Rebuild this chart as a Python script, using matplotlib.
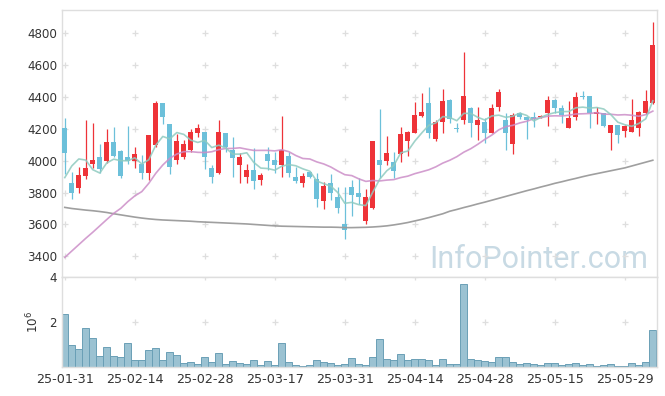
import matplotlib
matplotlib.use('Agg')
import matplotlib.pyplot as plt
import numpy as np

# ---- data ----
opens = [4203, 3858, 3831, 3906, 3980, 4024, 3996, 4118, 4061, 4024,
         4000, 3979, 3925, 4099, 4360, 4229, 4005, 4026, 4068, 4176,
         4178, 3952, 3921, 4172, 4067, 3975, 3900, 3942, 3879, 4042,
         4005, 3973, 4030, 3898, 3862, 3929, 3883, 3749, 3858, 3770,
         3603, 3833, 3800, 3624, 3701, 4005, 3998, 3990, 4042, 4126,
         4176, 4283, 4360, 4139, 4245, 4381, 4208, 4254, 4333, 4222,
         4243, 4176, 4335, 4256, 4103, 4298, 4273, 4273, 4273, 4298,
         4381, 4329, 4204, 4273, 4409, 4407, 4294, 4302, 4176, 4225,
         4189, 4183, 4204, 4298, 4361]
highs = [4266, 3930, 3963, 4256, 4235, 4105, 4197, 4210, 4065, 4218,
         4084, 4036, 4164, 4375, 4365, 4229, 4168, 4131, 4197, 4229,
         4180, 3973, 4256, 4175, 4151, 4047, 3977, 4078, 3921, 4084,
         4057, 4281, 4057, 3963, 3921, 3936, 3925, 3869, 3917, 3833,
         3833, 3879, 3890, 3820, 4126, 4323, 4155, 4057, 4214, 4189,
         4371, 4427, 4465, 4256, 4448, 4385, 4235, 4681, 4335, 4335,
         4266, 4356, 4448, 4302, 4302, 4308, 4277, 4308, 4285, 4407,
         4385, 4350, 4377, 4430, 4440, 4407, 4335, 4302, 4227, 4225,
         4225, 4386, 4310, 4444, 4873]
lows = [3917, 3758, 3800, 3883, 3952, 3921, 3984, 4026, 3890, 3980,
        3957, 3883, 3879, 4088, 4231, 3917, 3979, 4013, 4057, 4151,
        3946, 3858, 3917, 4057, 3900, 3858, 3858, 3820, 3848, 3942,
        3921, 3900, 3900, 3858, 3833, 3890, 3707, 3699, 3754, 3670,
        3509, 3653, 3728, 3603, 3695, 3890, 3973, 3890, 3994, 4030,
        4172, 4277, 4141, 4126, 4172, 4239, 4183, 4233, 4151, 4130,
        4114, 4172, 4314, 4067, 4042, 4260, 4136, 4212, 4268, 4218,
        4298, 4239, 4204, 4256, 4386, 4204, 4233, 4214, 4069, 4114,
        4151, 4183, 4155, 4294, 4356]
closes = [4050, 3800, 3911, 3954, 4003, 3946, 4118, 4028, 3906, 4000,
          4040, 3925, 4160, 4360, 4277, 3963, 4124, 4103, 4178, 4206,
          4026, 3900, 4178, 4088, 4015, 4026, 3942, 3875, 3911, 4000,
          3975, 4067, 3925, 3875, 3904, 3900, 3758, 3841, 3800, 3701,
          3565, 3785, 3770, 3770, 4124, 3975, 4046, 3936, 4168, 4178,
          4287, 4304, 4176, 4243, 4375, 4260, 4202, 4407, 4239, 4254,
          4176, 4329, 4432, 4172, 4287, 4273, 4256, 4262, 4281, 4381,
          4329, 4287, 4266, 4398, 4402, 4298, 4306, 4218, 4225, 4162,
          4218, 4256, 4308, 4373, 4727]
# volume, millions of shares
volume = [2.36, 1.00, 0.82, 1.73, 1.27, 0.50, 0.91, 0.50, 0.45, 1.05,
          0.29, 0.29, 0.77, 0.86, 0.32, 0.68, 0.55, 0.18, 0.23, 0.14,
          0.45, 0.23, 0.64, 0.14, 0.27, 0.18, 0.14, 0.32, 0.09, 0.27,
          0.09, 1.05, 0.23, 0.09, 0.05, 0.09, 0.32, 0.23, 0.18, 0.09,
          0.14, 0.41, 0.14, 0.09, 0.45, 1.23, 0.36, 0.32, 0.59, 0.32,
          0.36, 0.36, 0.32, 0.09, 0.36, 0.14, 0.14, 3.70, 0.36, 0.32,
          0.27, 0.23, 0.45, 0.45, 0.23, 0.14, 0.18, 0.14, 0.09, 0.18,
          0.18, 0.09, 0.14, 0.18, 0.09, 0.14, 0.05, 0.09, 0.14, 0.05,
          0.05, 0.18, 0.09, 0.23, 1.64]
# moving-average values before the window is long enough
ma5_head = [3894, 3967, 4011, 4004]
ma20_head = [3393, 3433, 3473, 3513, 3551, 3591, 3631, 3670, 3701, 3743,
             3779, 3806, 3858, 3921, 3973, 4015, 4042, 4057, 4057]
ma120 = [3707, 3700, 3695, 3690, 3686, 3681, 3675, 3667, 3660, 3653,
         3646, 3640, 3635, 3631, 3628, 3626, 3624, 3622, 3620, 3617,
         3615, 3613, 3611, 3609, 3607, 3605, 3603, 3600, 3597, 3594,
         3591, 3589, 3588, 3587, 3586, 3585, 3584, 3583, 3583, 3582,
         3580, 3580, 3581, 3582, 3584, 3587, 3591, 3597, 3604, 3612,
         3622, 3632, 3643, 3655, 3667, 3683, 3694, 3706, 3717, 3729,
         3740, 3752, 3764, 3776, 3788, 3800, 3812, 3823, 3835, 3846,
         3858, 3868, 3879, 3889, 3900, 3910, 3919, 3928, 3937, 3946,
         3955, 3967, 3979, 3991, 4003]
tick_pos = [0, 10, 20, 30, 40, 50, 60, 70, 80]
tick_labels = ['25-01-31', '25-02-14', '25-02-28', '25-03-17', '25-03-31',
               '25-04-14', '25-04-28', '25-05-15', '25-05-29']
price_ticks = [3400, 3600, 3800, 4000, 4200, 4400, 4600, 4800]

# ---- derived ----
n = len(closes)
x = np.arange(n)
c = np.array(closes, float)
ma5 = np.array(ma5_head + [c[i - 4:i + 1].mean() for i in range(4, n)])
ma20 = np.array(ma20_head + [c[i - 19:i + 1].mean() for i in range(19, n)])

RED = '#ee3338'
BLUE = '#6cc0da'
GRID = '#dedede'
TXT = '#333333'

fig = plt.figure(figsize=(6.65, 3.96), dpi=100)
ax1 = fig.add_axes([0.0932, 0.3005, 0.8948, 0.6742])
ax2 = fig.add_axes([0.0932, 0.0732, 0.8948, 0.2273], sharex=ax1)

for ax in (ax1, ax2):
    for s in ax.spines.values():
        s.set_color(GRID)
        s.set_linewidth(1)
    ax.tick_params(length=0, colors=TXT)

# grid crosses
gx, gy = np.meshgrid(tick_pos, price_ticks)
ax1.scatter(gx.ravel(), gy.ravel(), marker='+', s=14, color=GRID, lw=0.9, zorder=0.5)

# watermark
ax1.text(0.985, 0.035, 'InfoPointer.com', transform=ax1.transAxes, ha='right',
         va='baseline', fontsize=22, color='#c8dae4', family='Roboto', zorder=0.3)

# candles
for i in range(n):
    o, h, l, cl = opens[i], highs[i], lows[i], closes[i]
    col = RED if cl >= o else BLUE
    ax1.vlines(x[i], l, h, color=col, lw=0.9, zorder=2)
    bot = min(o, cl)
    ht = max(abs(cl - o), 5)
    ax1.bar(x[i], ht, bottom=bot, width=0.72, color=col, edgecolor='none', zorder=3)

ax1.plot(x, ma120, color='#9a9a9a', lw=1.2, zorder=4, alpha=0.95)
ax1.plot(x, ma20, color='#cc8ec8', lw=1.2, zorder=4, alpha=0.85)
ax1.plot(x, ma5, color='#8fcbc0', lw=1.2, zorder=4, alpha=0.85)

ax1.set_ylim(3270, 4946)
ax1.set_yticks(price_ticks)
ax1.set_yticklabels([str(v) for v in price_ticks], fontsize=8.6)
ax1.set_xlim(-0.4, 84.6)
plt.setp(ax1.get_xticklabels(), visible=False)

# volume
vx, vy = np.meshgrid(tick_pos, [2, 4])
ax2.scatter(vx.ravel(), vy.ravel(), marker='+', s=14, color=GRID, lw=0.9, zorder=0.5)
ax2.bar(x, volume, width=1.0, color='#9bc2d2', edgecolor='#6a9fb6', lw=0.7, zorder=2)
ax2.set_ylim(0, 4)
ax2.set_yticks([2, 4])
ax2.set_yticklabels(['2', '4'], fontsize=8.6)
ax2.set_ylabel(r'$10^6$', fontsize=8.6, color=TXT, labelpad=6)
ax2.set_xticks(tick_pos)
ax2.set_xticklabels(tick_labels, fontsize=9.2)
ax2.tick_params(axis='x', pad=4)

fig.savefig('out.png', dpi=100)
